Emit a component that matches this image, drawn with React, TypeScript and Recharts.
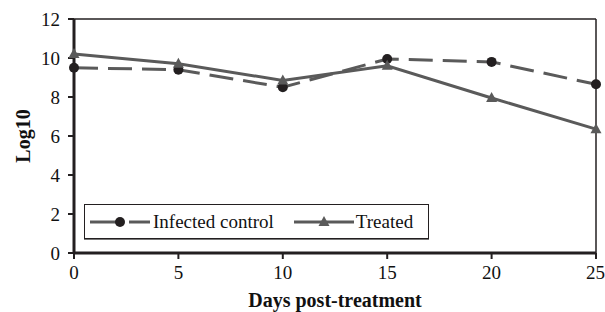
import {
  LineChart, Line, XAxis, YAxis, Legend, ReferenceLine,
} from "recharts";

const days = [0, 5, 10, 15, 20, 25];
const infectedControl = [9.5, 9.4, 8.5, 9.95, 9.8, 8.65];
const treated = [10.2, 9.7, 8.85, 9.6, 7.95, 6.35];
const xTicks = [0, 5, 10, 15, 20, 25];
const yTicks = [0, 2, 4, 6, 8, 10, 12];

const data = days.map((d, i) => ({
  day: d,
  infected: infectedControl[i],
  treated: treated[i],
}));

const AXIS = "#231f20";
const SERIES = "#5a5a5a";
const FONT = "'Liberation Serif', 'Times New Roman', serif";

const Triangle = (props: any) => {
  const { cx, cy, key } = props;
  if (cx == null || cy == null) return null;
  return (
    <polygon
      key={key}
      points={`${cx},${cy - 6} ${cx - 5.5},${cy + 4} ${cx + 5.5},${cy + 4}`}
      fill={SERIES}
    />
  );
};

const LegendContent = () => (
  <div
    style={{
      display: "flex",
      alignItems: "center",
      height: "100%",
      fontFamily: FONT,
      fontSize: 19,
      color: "#111",
    }}
  >
    <svg width={60} height={20} style={{ marginLeft: 5 }}>
      <line x1={0} y1={10} x2={23} y2={10} stroke={SERIES} strokeWidth={3} />
      <line x1={39} y1={10} x2={60} y2={10} stroke={SERIES} strokeWidth={3} />
      <line x1={23} y1={10} x2={26} y2={10} stroke={SERIES} strokeWidth={3} />
      <circle cx={30} cy={10} r={5} fill={AXIS} />
    </svg>
    <span style={{ marginLeft: 3 }}>Infected control</span>
    <svg width={60} height={20} style={{ marginLeft: 20 }}>
      <line x1={0} y1={10} x2={60} y2={10} stroke={SERIES} strokeWidth={3} />
      <polygon points="30,4 24.5,14 35.5,14" fill={SERIES} />
    </svg>
    <span style={{ marginLeft: 2 }}>Treated</span>
  </div>
);

export default function App() {
  return (
    <div style={{ position: "absolute", left: 0, top: 0, background: "#fff" }}>
      <LineChart
        width={605}
        height={312}
        data={data}
        margin={{ top: 19, right: 9, left: 30, bottom: 0 }}
      >
        <XAxis
          dataKey="day"
          type="number"
          domain={[0, 25]}
          ticks={xTicks}
          tick={{ fontSize: 19, fill: "#111", fontFamily: FONT }}
          tickLine={{ stroke: AXIS, strokeWidth: 2 }}
          tickSize={6}
          tickMargin={7}
          axisLine={{ stroke: AXIS, strokeWidth: 3 }}
          height={59}
          label={{
            value: "Days post-treatment",
            position: "insideBottom",
            offset: 5,
            style: { fontSize: 20, fontWeight: "bold", fill: "#111", fontFamily: FONT },
          }}
        />
        <YAxis
          type="number"
          domain={[0, 12]}
          ticks={yTicks}
          tick={{ fontSize: 19, fill: "#111", fontFamily: FONT }}
          tickLine={{ stroke: AXIS, strokeWidth: 2 }}
          tickSize={6}
          tickMargin={8}
          axisLine={{ stroke: AXIS, strokeWidth: 3 }}
          width={44}
          label={{
            value: "Log10",
            angle: -90,
            position: "left",
            offset: 7,
            style: { fontSize: 20, fontWeight: "bold", fill: "#111", fontFamily: FONT, textAnchor: "middle" },
          }}
        />
        <ReferenceLine y={12} stroke={AXIS} strokeWidth={1.5} />
        <ReferenceLine x={25} stroke={AXIS} strokeWidth={1.5} />
        <Line
          dataKey="infected"
          name="Infected control"
          stroke={SERIES}
          strokeWidth={3}
          strokeDasharray="24 10"
          dot={{ r: 5, fill: AXIS, stroke: AXIS, strokeWidth: 0 }}
          isAnimationActive={false}
        />
        <Line
          dataKey="treated"
          name="Treated"
          stroke={SERIES}
          strokeWidth={3}
          dot={Triangle}
          isAnimationActive={false}
        />
        <Legend
          layout="horizontal"
          verticalAlign="middle"
          align="center"
          content={LegendContent}
          wrapperStyle={{
            left: 84,
            top: 204,
            width: 345,
            height: 35,
            border: "1px solid #231f20",
            boxShadow: "0 1px 0 #777",
            boxSizing: "border-box",
            background: "#fff",
          }}
        />
      </LineChart>
    </div>
  );
}
